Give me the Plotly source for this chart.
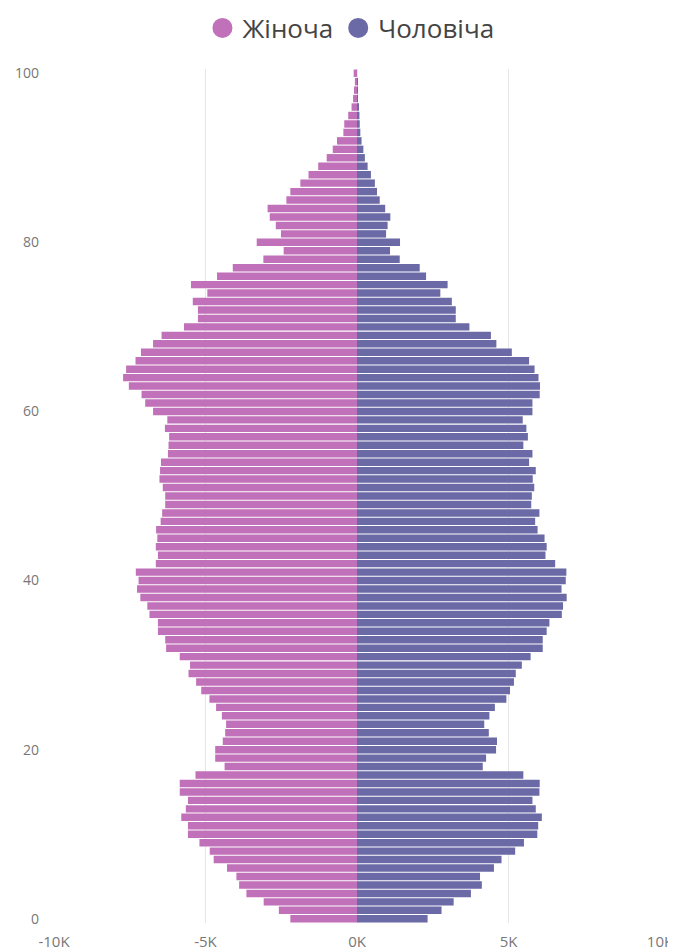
import plotly.graph_objects as go

ages = list(range(0, 101))

female_k = [
    2.20, 2.58, 3.08, 3.65, 3.89, 3.98, 4.29, 4.73, 4.86, 5.20,
    5.58, 5.58, 5.80, 5.65, 5.58, 5.85, 5.85, 5.33, 4.37, 4.68,
    4.68, 4.43, 4.35, 4.32, 4.46, 4.65, 4.87, 5.14, 5.31, 5.56,
    5.51, 5.85, 6.30, 6.33, 6.57, 6.57, 6.85, 6.92, 7.15, 7.26,
    7.21, 7.30, 6.64, 6.57, 6.64, 6.59, 6.63, 6.48, 6.43, 6.33,
    6.33, 6.41, 6.52, 6.50, 6.47, 6.24, 6.22, 6.20, 6.34, 6.26,
    6.73, 6.99, 7.11, 7.53, 7.72, 7.62, 7.31, 7.13, 6.73, 6.45,
    5.71, 5.25, 5.25, 5.42, 4.94, 5.48, 4.62, 4.10, 3.09, 2.42,
    3.31, 2.51, 2.68, 2.88, 2.95, 2.33, 2.20, 1.87, 1.60, 1.28,
    1.00, 0.80, 0.66, 0.45, 0.42, 0.29, 0.18, 0.13, 0.10, 0.07,
    0.11,
]

male_k = [
    2.33, 2.79, 3.19, 3.76, 4.12, 4.06, 4.52, 4.77, 5.22, 5.51,
    5.95, 5.98, 6.10, 5.90, 5.79, 6.02, 6.03, 5.49, 4.15, 4.26,
    4.59, 4.62, 4.35, 4.20, 4.37, 4.55, 4.93, 5.05, 5.18, 5.24,
    5.44, 5.73, 6.13, 6.13, 6.26, 6.35, 6.76, 6.80, 6.92, 6.75,
    6.89, 6.91, 6.54, 6.22, 6.26, 6.19, 5.96, 5.88, 6.02, 5.75,
    5.77, 5.85, 5.80, 5.90, 5.68, 5.79, 5.49, 5.64, 5.59, 5.47,
    5.79, 5.79, 6.03, 6.04, 5.99, 5.86, 5.68, 5.11, 4.60, 4.42,
    3.71, 3.26, 3.26, 3.13, 2.75, 2.99, 2.28, 2.07, 1.41, 1.09,
    1.42, 0.96, 1.01, 1.10, 0.93, 0.75, 0.66, 0.59, 0.46, 0.35,
    0.26, 0.21, 0.15, 0.11, 0.09, 0.08, 0.04, 0.02, 0.01, 0.01,
    0.00,
]

x_tick_vals = [-10000, -5000, 0, 5000, 10000]
x_tick_text = ["-10K", "-5K", "0K", "5K", "10K"]
y_tick_vals = [0, 20, 40, 60, 80, 100]

series_names = ["Жіноча", "Чоловіча"]
series_colors = ["#C171B9", "#6B6AA6"]

female = [-v * 1000 for v in female_k]
male = [v * 1000 for v in male_k]

fig = go.Figure()
fig.add_trace(go.Bar(y=ages, x=female, orientation="h", name=series_names[0],
                     marker=dict(color=series_colors[0], line=dict(width=0)),
                     showlegend=False))
fig.add_trace(go.Bar(y=ages, x=male, orientation="h", name=series_names[1],
                     marker=dict(color=series_colors[1], line=dict(width=0)),
                     showlegend=False))
# legend entries with circular markers
for name, col in zip(series_names, series_colors):
    fig.add_trace(go.Scatter(x=[None], y=[None], mode="markers", name=name,
                             marker=dict(symbol="circle", size=16, color=col,
                                         line=dict(color=col, width=4))))

# page body has an 8px default margin, so figure is sized to fit the window
fig.update_layout(
    width=668, height=942,
    margin=dict(l=46, r=16, t=61, b=27, autoexpand=False),
    paper_bgcolor="white", plot_bgcolor="white",
    barmode="overlay", bargap=0.12,
    font=dict(family="Open Sans, Noto Sans, sans-serif", color="#777777", size=14),
    legend=dict(orientation="h", x=0.49, xanchor="center", y=1.048, yanchor="middle",
                font=dict(size=26, color="#444444"),
                itemwidth=30, traceorder="normal", tracegroupgap=0,
                bgcolor="rgba(0,0,0,0)"),
    xaxis=dict(range=[-10000, 10000], tickvals=x_tick_vals, ticktext=x_tick_text,
               showgrid=True, gridcolor="#E6E6E6", gridwidth=1, zeroline=False,
               showline=False, ticks="", fixedrange=True, automargin=False,
               ticklabelstandoff=8, tickfont=dict(size=15)),
    yaxis=dict(range=[-0.5, 100.5], tickvals=y_tick_vals, showgrid=False,
               zeroline=False, showline=False, ticks="", ticklabelstandoff=14,
               automargin=False),
    showlegend=True,
)

fig.write_html("out.html")
